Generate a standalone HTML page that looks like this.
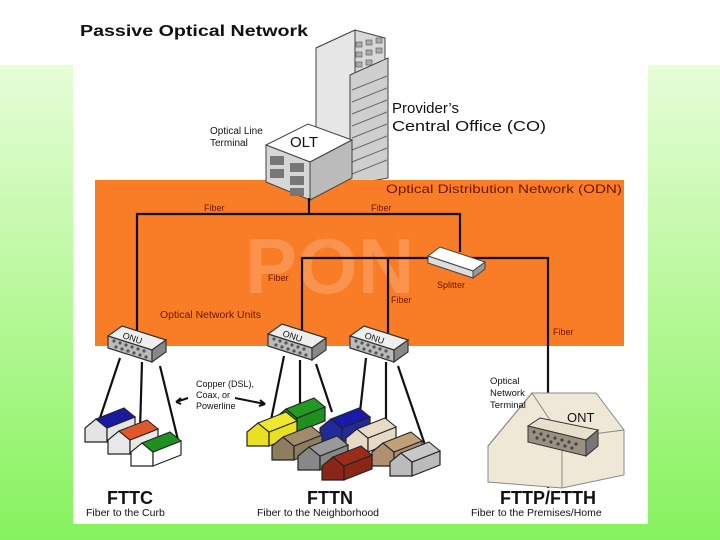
<!DOCTYPE html>
<html><head><meta charset="utf-8"><style>
html,body{margin:0;padding:0;}
body{width:720px;height:540px;overflow:hidden;background:linear-gradient(#ffffff 0,#ffffff 64px,#e6fdd8 66px,#b8f89a 300px,#86f25e 540px);position:relative;font-family:"Liberation Sans",sans-serif;}
.top{position:absolute;left:0;top:0;width:720px;height:64px;background:#fff;}
.col{position:absolute;left:73px;top:0;width:575px;height:524px;background:#fff;}
svg{position:absolute;left:0;top:0;}
text{font-family:"Liberation Sans",sans-serif;}
</style></head><body>
<div class="top"></div><div class="col"></div>
<svg width="720" height="540" viewBox="0 0 720 540">
<defs>
<g id="hw"><polygon points="0,0 22,0 22,-14 11,-23 0,-14" stroke="#222" stroke-width="1.2"/><polygon points="22,0 50,-11 50,-25 22,-14" stroke="#222" stroke-width="1.2"/></g>
<g id="onu">
<polygon points="0,8 44,22 58,12 14,-2" fill="#eee" stroke="#333" stroke-width="1.2"/>
<polygon points="0,8 44,22 44,34 0,20" fill="#bbb" stroke="#333" stroke-width="1.2"/>
<polygon points="44,22 58,12 58,24 44,34" fill="#888" stroke="#333" stroke-width="1.2"/>
<g fill="#555"><circle cx="6" cy="13" r="1.6"/><circle cx="12" cy="15" r="1.6"/><circle cx="18" cy="17" r="1.6"/><circle cx="24" cy="19" r="1.6"/><circle cx="30" cy="21" r="1.6"/><circle cx="36" cy="23" r="1.6"/><circle cx="8" cy="19" r="1.6"/><circle cx="14" cy="21" r="1.6"/><circle cx="20" cy="23" r="1.6"/><circle cx="26" cy="25" r="1.6"/><circle cx="32" cy="27" r="1.6"/><circle cx="38" cy="29" r="1.6"/></g>
</g>
</defs>
<text x="80" y="36" font-size="16" font-weight="bold" fill="#111" textLength="228" lengthAdjust="spacingAndGlyphs">Passive Optical Network</text>
<!-- building -->
<polygon points="316,48 355,30 385,38 385,175 350,185 316,172" fill="#d8d8d8" stroke="#444"/>
<polygon points="316,48 355,30 355,180 316,170" fill="#e6e6e6" stroke="#444"/>
<polygon points="350,75 388,58 388,178 350,185" fill="#cfcfcf" stroke="#444"/>
<g stroke="#666" stroke-width="1"><line x1="352" y1="90" x2="387" y2="76"/><line x1="352" y1="102" x2="387" y2="88"/><line x1="352" y1="114" x2="387" y2="100"/><line x1="352" y1="126" x2="387" y2="112"/><line x1="352" y1="138" x2="387" y2="124"/><line x1="352" y1="150" x2="387" y2="136"/><line x1="352" y1="162" x2="387" y2="148"/><line x1="352" y1="174" x2="387" y2="160"/></g>
<g fill="#aaa" stroke="#555" stroke-width=".6"><rect x="356" y="42" width="6" height="5"/><rect x="366" y="40" width="6" height="5"/><rect x="376" y="38" width="6" height="5"/><rect x="356" y="52" width="6" height="5"/><rect x="366" y="50" width="6" height="5"/><rect x="376" y="48" width="6" height="5"/><rect x="356" y="62" width="6" height="5"/><rect x="366" y="60" width="6" height="5"/></g>
<!-- ODN -->
<rect x="95" y="180" width="529" height="166" fill="#f97c26"/>
<text x="245" y="293" font-size="78" font-weight="bold" fill="#fff" fill-opacity="0.18">PON</text>
<!-- OLT -->
<polygon points="266,145 308,124 352,140 310,162" fill="#fff" stroke="#444"/>
<polygon points="266,145 310,162 310,200 266,182" fill="#d6d6d6" stroke="#444"/>
<polygon points="310,162 352,140 352,178 310,200" fill="#bbb" stroke="#444"/>
<g fill="#777"><rect x="270" y="156" width="14" height="9"/><rect x="290" y="163" width="14" height="9"/><rect x="270" y="169" width="14" height="9"/><rect x="290" y="176" width="14" height="9"/><rect x="290" y="188" width="14" height="8"/></g>
<text x="290" y="147" font-size="15" fill="#111">OLT</text>
<text x="210" y="134" font-size="10" fill="#111">Optical Line</text>
<text x="210" y="146" font-size="10" fill="#111">Terminal</text>
<text x="392" y="113" font-size="15" fill="#111">Provider’s</text>
<text x="392" y="131" font-size="15" fill="#111" textLength="154" lengthAdjust="spacingAndGlyphs">Central Office (CO)</text>
<text x="386" y="193" font-size="12" fill="#6b1500" textLength="236" lengthAdjust="spacingAndGlyphs">Optical Distribution Network (ODN)</text>
<g stroke="#111" stroke-width="2.2" fill="none">
<polyline points="309,198 309,214"/>
<polyline points="137,335 137,214 460,214 460,252"/>
<polyline points="302,335 302,258 548,258 548,488"/>
<polyline points="388,335 388,258"/>
</g>
<g font-size="9" fill="#6b1500">
<text x="204" y="211">Fiber</text><text x="371" y="211">Fiber</text>
<text x="268" y="281">Fiber</text><text x="391" y="303">Fiber</text>
<text x="553" y="335">Fiber</text><text x="437" y="288">Splitter</text>
</g>
<text x="160" y="318" font-size="10.5" fill="#6b1500">Optical Network Units</text>
<!-- splitter -->
<polygon points="428,256 440,247 485,262 473,271" fill="#fff" stroke="#444"/>
<polygon points="428,256 473,271 473,278 428,263" fill="#ddd" stroke="#444"/>
<polygon points="473,271 485,262 485,269 473,278" fill="#999" stroke="#444"/>
<!-- ONUs -->
<use href="#onu" x="108" y="328"/>
<use href="#onu" x="268" y="326"/>
<use href="#onu" x="350" y="328"/>
<g font-size="9" fill="#111"><text x="122" y="338" transform="rotate(18 122 338)">ONU</text><text x="282" y="336" transform="rotate(18 282 336)">ONU</text><text x="364" y="338" transform="rotate(18 364 338)">ONU</text></g>
<!-- wires -->
<g stroke="#111" stroke-width="2.2">
<line x1="120" y1="358" x2="100" y2="418"/><line x1="142" y1="362" x2="140" y2="430"/><line x1="160" y1="366" x2="178" y2="440"/>
<line x1="284" y1="356" x2="271" y2="420"/><line x1="300" y1="360" x2="300" y2="415"/><line x1="316" y1="364" x2="332" y2="412"/>
<line x1="366" y1="358" x2="358" y2="430"/><line x1="386" y1="362" x2="386" y2="438"/><line x1="398" y1="366" x2="425" y2="445"/>
</g>
<g font-size="9" fill="#111"><text x="196" y="387">Copper (DSL),</text><text x="196" y="398">Coax, or</text><text x="196" y="409">Powerline</text></g>
<path d="M188,398 L176,402 M176,402 l5,-4 M176,402 l5,2" stroke="#111" stroke-width="2" fill="none"/>
<path d="M235,398 L265,404 l-5,-4 M265,404 l-6,2" stroke="#111" stroke-width="2" fill="none"/>
<!-- FTTC houses -->
<g transform="translate(85,442)"><use href="#hw" fill="#e4e4e4"/><polygon points="11,-23 39,-34 50,-25 22,-14" fill="#1a1aa0" stroke="#222"/></g>
<g transform="translate(108,454)"><use href="#hw" fill="#e8e8e8"/><polygon points="11,-23 39,-34 50,-25 22,-14" fill="#e0582a" stroke="#222"/></g>
<g transform="translate(131,466)"><use href="#hw" fill="#fff"/><polygon points="11,-23 39,-34 50,-25 22,-14" fill="#1f8f1f" stroke="#222"/></g>
<!-- FTTN houses -->
<g transform="translate(275,432)"><use href="#hw" fill="#1f8f1f"/><polygon points="11,-23 39,-34 50,-25 22,-14" fill="#229922" stroke="#222"/></g>
<g transform="translate(247,446)"><use href="#hw" fill="#e8e020"/><polygon points="11,-23 39,-34 50,-25 22,-14" fill="#efe830" stroke="#222"/></g>
<g transform="translate(320,442)"><use href="#hw" fill="#222a9a"/><polygon points="11,-23 39,-34 50,-25 22,-14" fill="#1a1aa8" stroke="#222"/></g>
<g transform="translate(346,452)"><use href="#hw" fill="#e6dac4"/><polygon points="11,-23 39,-34 50,-25 22,-14" fill="#e8dcc6" stroke="#222"/></g>
<g transform="translate(272,460)"><use href="#hw" fill="#8e7d5e"/><polygon points="11,-23 39,-34 50,-25 22,-14" fill="#a08c68" stroke="#222"/></g>
<g transform="translate(372,466)"><use href="#hw" fill="#b09070"/><polygon points="11,-23 39,-34 50,-25 22,-14" fill="#c0a078" stroke="#222"/></g>
<g transform="translate(298,470)"><use href="#hw" fill="#888"/><polygon points="11,-23 39,-34 50,-25 22,-14" fill="#999" stroke="#222"/></g>
<g transform="translate(390,476)"><use href="#hw" fill="#bbb"/><polygon points="11,-23 39,-34 50,-25 22,-14" fill="#c8c8c8" stroke="#222"/></g>
<g transform="translate(322,480)"><use href="#hw" fill="#8a2616"/><polygon points="11,-23 39,-34 50,-25 22,-14" fill="#9b2c1a" stroke="#222"/></g>
<!-- ONT house -->
<polygon points="488,446 532,393 596,393 624,430 624,475 562,488 488,482" fill="#efe8d6" stroke="#888"/>
<polyline points="488,446 532,393 562,438 562,488" fill="none" stroke="#888"/>
<line x1="562" y1="438" x2="624" y2="430" stroke="#888"/>
<text x="490" y="384" font-size="9.5" fill="#111">Optical</text>
<text x="490" y="396" font-size="9.5" fill="#111">Network</text>
<text x="490" y="408" font-size="9.5" fill="#111">Terminal</text>
<text x="567" y="422" font-size="13" fill="#111">ONT</text>
<polygon points="528,426 540,418 598,430 586,440" fill="#e8e0cc" stroke="#333"/>
<polygon points="528,426 586,440 586,456 528,442" fill="#9a9080" stroke="#333"/>
<polygon points="586,440 598,430 598,446 586,456" fill="#777" stroke="#333"/>
<g fill="#444"><circle cx="534" cy="432" r="1.6"/><circle cx="541" cy="434" r="1.6"/><circle cx="548" cy="436" r="1.6"/><circle cx="555" cy="438" r="1.6"/><circle cx="562" cy="440" r="1.6"/><circle cx="569" cy="442" r="1.6"/><circle cx="576" cy="444" r="1.6"/><circle cx="537" cy="438" r="1.6"/><circle cx="544" cy="440" r="1.6"/><circle cx="551" cy="442" r="1.6"/><circle cx="558" cy="444" r="1.6"/><circle cx="565" cy="446" r="1.6"/><circle cx="572" cy="448" r="1.6"/></g>
<!-- labels -->
<g font-weight="bold" font-size="18" fill="#111"><text x="107" y="504">FTTC</text><text x="307" y="504">FTTN</text><text x="500" y="504">FTTP/FTTH</text></g>
<g font-size="10.5" fill="#111"><text x="86" y="516">Fiber to the Curb</text><text x="257" y="516">Fiber to the Neighborhood</text><text x="471" y="516">Fiber to the Premises/Home</text></g>
</svg>
</body></html>
